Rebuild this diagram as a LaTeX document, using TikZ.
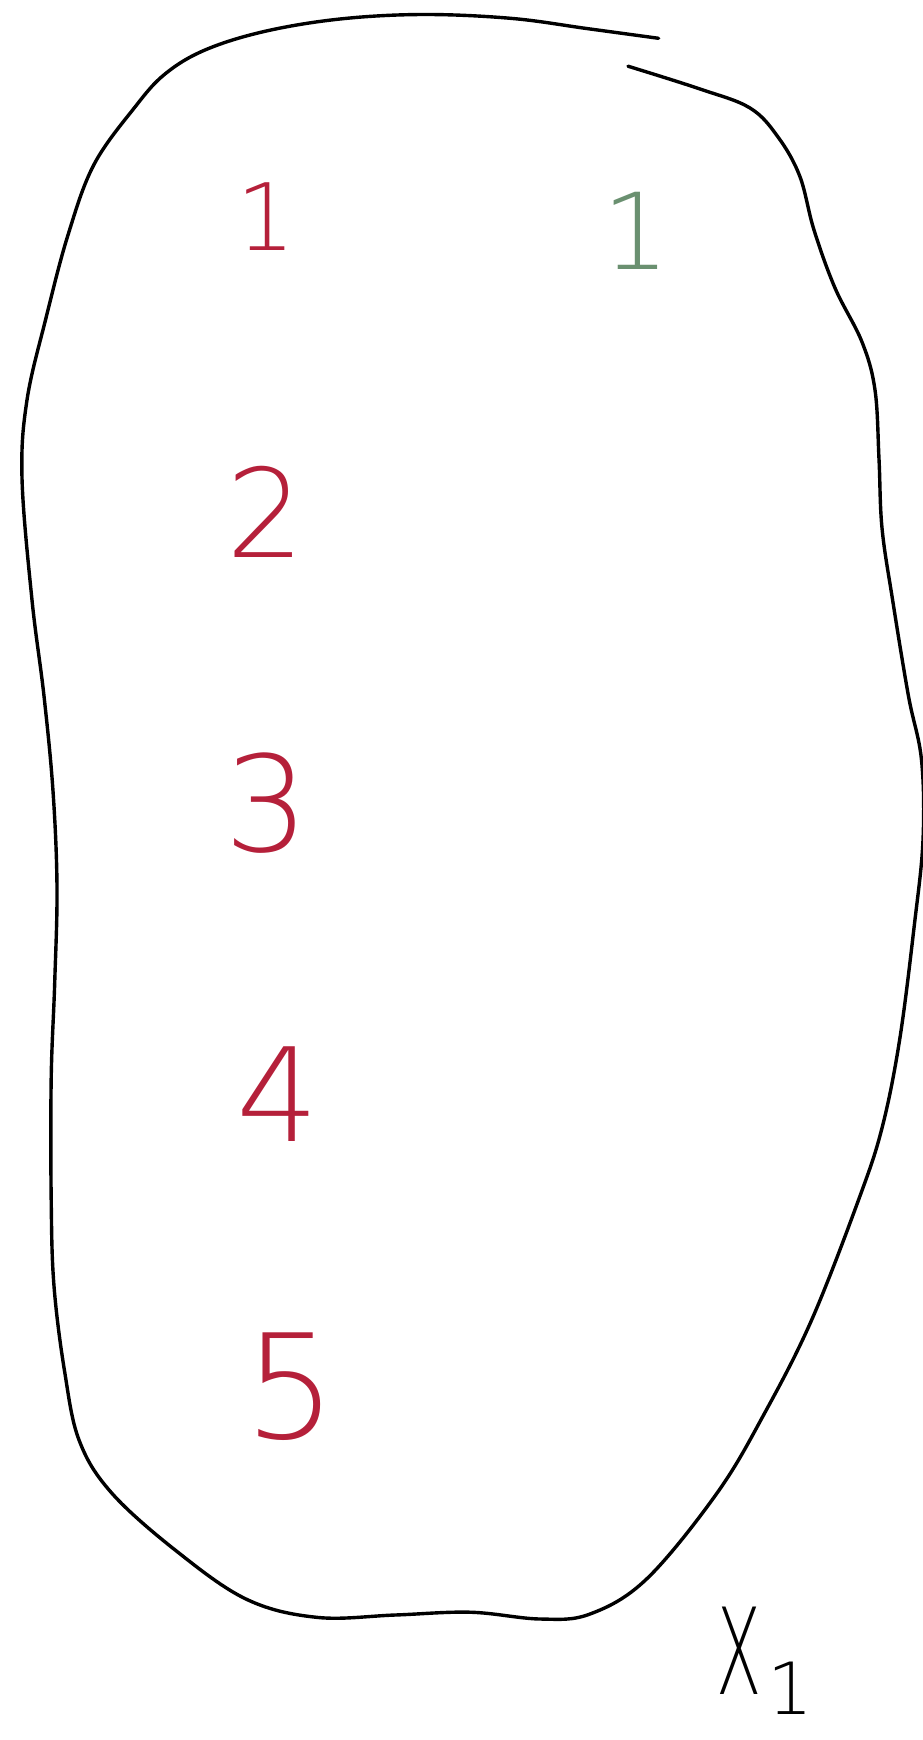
\documentclass[tikz,border=0pt]{standalone}
\usepackage{fontspec}
\usepackage{graphicx}
\newfontfamily\handfont{DejaVu Sans ExtraLight}
\definecolor{inkred}{HTML}{B5203A}
\definecolor{inkgreen}{HTML}{6A9070}

\begin{document}
\begin{tikzpicture}[x=1pt, y=-1pt, line cap=round, line join=round,
  digit/.style={anchor=center, inner sep=0pt, text=inkred, font=\handfont}]

  %% ==== outline of the set (one stroke, gap at the top right) ====
  \draw[line width=3.4pt] plot[smooth, tension=0.6] coordinates {
    (658.6,38.3) (588,28.7) (511.6,18.4) (423.4,14.5) (340,19)
    (264.6,31.4) (205,50) (165,74) (135,107) (94,164.5)
    (68,235) (46,318) (27,400) (22,478) (32,600)
    (44,696) (53,791) (57,887) (54.7,983) (51.2,1078)
    (51.2,1200) (54,1286) (64.7,1372) (79.4,1441) (111.7,1493)
    (176.4,1551) (247,1599.5) (317.5,1617.4) (395,1615) (470.4,1612.2)
    (540,1619) (590,1614) (646.8,1578.8) (717.3,1492.7) (764.4,1413.5)
    (811.4,1320.5) (858.5,1200) (882,1128) (899.6,1040) (914.3,925.3)
    (923,840) (921.5,760) (908.4,695.7) (892.6,600) (882,528)
    (879,459) (875,390) (862,342) (835,288) (814,230)
    (799.7,176) (778,137) (750,108) (700,89) (628,66.2)};

  %% ==== elements (red column) ====
  \node[digit, font=\handfont\fontsize{93}{93}\selectfont]  (one)   at (266,217)  {1};
  \node[digit, font=\handfont\fontsize{123}{123}\selectfont] (two)   at (266,512)  {2};
  \node[digit, font=\handfont\fontsize{133}{133}\selectfont] (three) at (267,803)  {3};
  \node[digit, font=\handfont\fontsize{130}{130}\selectfont] (four)  at (278,1094) {4};
  \node[digit, font=\handfont\fontsize{145}{145}\selectfont] (five)  at (291,1387) {5};

  %% ==== the green one ====
  \node[digit, text=inkgreen, font=\handfont\fontsize{106}{106}\selectfont] (gone) at (636,231) {1};

  %% ==== set name ====
  \node[anchor=base west, inner sep=0pt, font=\handfont\fontsize{120}{120}\selectfont] (setname) at (716,1694)
    {\scalebox{0.55}[1]{X}\kern6pt\fontsize{72}{72}\selectfont\raisebox{-20pt}{1}};

  % fix the canvas
  \pgfresetboundingbox
  \path[use as bounding box] (0,0) rectangle (922,1740);
\end{tikzpicture}
\end{document}
